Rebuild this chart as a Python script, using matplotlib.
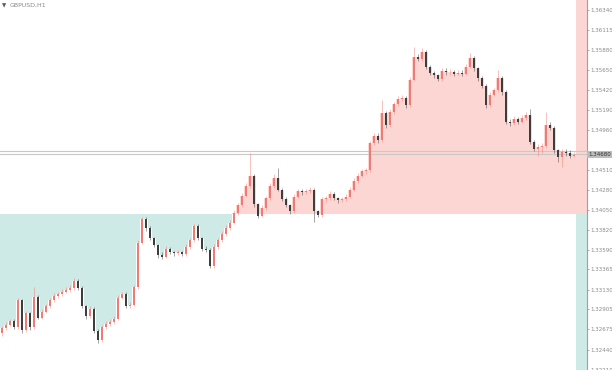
import numpy as np
import matplotlib
matplotlib.use("Agg")
import matplotlib.pyplot as plt

# GBPUSD H1 candles (first open, then closes/highs/lows)
first_open = 1.3263
closes = [
    1.3269, 1.3273, 1.3277, 1.3270, 1.3301, 1.3267, 1.3286, 1.3270, 1.3305, 1.3281,
    1.3288, 1.3294, 1.3301, 1.3306, 1.3308, 1.3311, 1.3313, 1.3315, 1.3323, 1.3315,
    1.3294, 1.3283, 1.3291, 1.3266, 1.3255, 1.3270, 1.3274, 1.3276, 1.3280, 1.3304,
    1.3308, 1.3294, 1.3296, 1.3316, 1.3367, 1.3394, 1.3384, 1.3372, 1.3364, 1.3353,
    1.3351, 1.3360, 1.3356, 1.3355, 1.3356, 1.3354, 1.3362, 1.3370, 1.3386, 1.3372,
    1.3360, 1.3359, 1.3340, 1.3362, 1.3370, 1.3377, 1.3384, 1.3390, 1.3401, 1.3410,
    1.3421, 1.3432, 1.3444, 1.3411, 1.3398, 1.3407, 1.3418, 1.3432, 1.3441, 1.3428,
    1.3417, 1.3410, 1.3403, 1.3420, 1.3426, 1.3425, 1.3426, 1.3428, 1.3403, 1.3399,
    1.3417, 1.3418, 1.3423, 1.3418, 1.3416, 1.3417, 1.3420, 1.3428, 1.3438, 1.3444,
    1.3449, 1.3450, 1.3481, 1.3490, 1.3485, 1.3516, 1.3502, 1.3517, 1.3526, 1.3532,
    1.3533, 1.3525, 1.3554, 1.3580, 1.3578, 1.3586, 1.3569, 1.3562, 1.3559, 1.3555,
    1.3564, 1.3563, 1.3563, 1.3561, 1.3562, 1.3561, 1.3569, 1.3579, 1.3567, 1.3556,
    1.3547, 1.3525, 1.3537, 1.3542, 1.3556, 1.3540, 1.3506, 1.3504, 1.3509, 1.3506,
    1.3510, 1.3514, 1.3483, 1.3475, 1.3477, 1.3478, 1.3502, 1.3499, 1.3473, 1.3465,
    1.3471, 1.3470, 1.3467, 1.3468,
]
highs = [
    1.3272, 1.3276, 1.3280, 1.3279, 1.3304, 1.3303, 1.3289, 1.3288, 1.3316, 1.3307,
    1.3291, 1.3297, 1.3304, 1.3309, 1.3311, 1.3314, 1.3316, 1.3318, 1.3327, 1.3325,
    1.3317, 1.3296, 1.3294, 1.3293, 1.3268, 1.3273, 1.3277, 1.3279, 1.3283, 1.3307,
    1.3311, 1.3310, 1.3299, 1.3319, 1.3370, 1.3397, 1.3396, 1.3386, 1.3374, 1.3366,
    1.3356, 1.3363, 1.3362, 1.3358, 1.3359, 1.3358, 1.3365, 1.3373, 1.3389, 1.3388,
    1.3374, 1.3363, 1.3361, 1.3365, 1.3373, 1.3380, 1.3387, 1.3393, 1.3404, 1.3413,
    1.3424, 1.3435, 1.3470, 1.3446, 1.3413, 1.3410, 1.3421, 1.3435, 1.3446, 1.3453,
    1.3430, 1.3419, 1.3412, 1.3423, 1.3429, 1.3429, 1.3429, 1.3431, 1.3430, 1.3405,
    1.3420, 1.3421, 1.3426, 1.3425, 1.3420, 1.3420, 1.3423, 1.3431, 1.3441, 1.3447,
    1.3452, 1.3453, 1.3484, 1.3493, 1.3493, 1.3531, 1.3518, 1.3520, 1.3529, 1.3535,
    1.3536, 1.3535, 1.3557, 1.3592, 1.3583, 1.3590, 1.3588, 1.3571, 1.3564, 1.3561,
    1.3567, 1.3567, 1.3566, 1.3565, 1.3565, 1.3565, 1.3572, 1.3585, 1.3581, 1.3569,
    1.3558, 1.3549, 1.3540, 1.3545, 1.3565, 1.3558, 1.3542, 1.3509, 1.3512, 1.3511,
    1.3513, 1.3517, 1.3521, 1.3485, 1.3480, 1.3481, 1.3517, 1.3505, 1.3501, 1.3475,
    1.3474, 1.3474, 1.3473, 1.3471,
]
lows = [
    1.3260, 1.3267, 1.3271, 1.3268, 1.3268, 1.3264, 1.3265, 1.3267, 1.3268, 1.3279,
    1.3279, 1.3286, 1.3292, 1.3299, 1.3304, 1.3306, 1.3309, 1.3311, 1.3313, 1.3313,
    1.3292, 1.3280, 1.3281, 1.3263, 1.3252, 1.3253, 1.3268, 1.3272, 1.3274, 1.3278,
    1.3302, 1.3292, 1.3292, 1.3294, 1.3314, 1.3365, 1.3381, 1.3370, 1.3362, 1.3350,
    1.3348, 1.3349, 1.3354, 1.3352, 1.3353, 1.3352, 1.3352, 1.3360, 1.3368, 1.3370,
    1.3358, 1.3356, 1.3338, 1.3338, 1.3360, 1.3368, 1.3375, 1.3382, 1.3388, 1.3399,
    1.3408, 1.3419, 1.3430, 1.3408, 1.3395, 1.3396, 1.3405, 1.3416, 1.3430, 1.3426,
    1.3415, 1.3408, 1.3400, 1.3401, 1.3418, 1.3422, 1.3423, 1.3424, 1.3391, 1.3396,
    1.3397, 1.3414, 1.3416, 1.3416, 1.3413, 1.3414, 1.3415, 1.3418, 1.3426, 1.3436,
    1.3442, 1.3446, 1.3448, 1.3479, 1.3482, 1.3483, 1.3499, 1.3500, 1.3515, 1.3524,
    1.3530, 1.3522, 1.3523, 1.3552, 1.3575, 1.3576, 1.3566, 1.3559, 1.3556, 1.3552,
    1.3553, 1.3560, 1.3560, 1.3558, 1.3559, 1.3558, 1.3559, 1.3567, 1.3564, 1.3553,
    1.3544, 1.3522, 1.3523, 1.3535, 1.3540, 1.3537, 1.3503, 1.3501, 1.3502, 1.3503,
    1.3504, 1.3508, 1.3480, 1.3472, 1.3466, 1.3470, 1.3476, 1.3496, 1.3470, 1.3460,
    1.3454, 1.3467, 1.3464, 1.3465,
]

base_level = 1.3400          # level the shaded areas hang from
bid_ask = [1.3472, 1.3469]   # the two grey horizontal price lines
tick_values = [1.36340, 1.36115, 1.35880, 1.35650, 1.35420, 1.35190, 1.34960,
               1.34510, 1.34280, 1.34050, 1.33820, 1.33590, 1.33365, 1.33130,
               1.32905, 1.32675, 1.32440, 1.32210]
symbol = "GBPUSD,H1"

# colours
BULL = "#ef7c74"
BEAR = "#3d3d3d"
PINK = "#fcd6d3"
CYAN = "#cdeae7"
GRID = "#c8c8c8"
LABEL = "#8a8a8a"

closes = np.array(closes)
highs = np.array(highs)
lows = np.array(lows)
opens = np.concatenate([[first_open], closes[:-1]])
idx = np.arange(len(closes))
up = closes >= opens

ymin, ymax = 1.32210, 1.36455
x0, x1 = -0.5, 146.25

fig = plt.figure(figsize=(6.12, 3.70), dpi=100)
ax = fig.add_axes([0, 0, 587 / 612, 1])
ax.set_xlim(x0, x1)
ax.set_ylim(ymin, ymax)

# shaded area between body top and the base level
# (edge points added so the steps cover the full first/last bar)
body_top = np.maximum(opens, closes)
fx = np.concatenate([[x0], idx, [idx[-1] + 0.5]])
ftop = np.concatenate([[body_top[0]], body_top, [body_top[-1]]])
ax.fill_between(fx, base_level, np.maximum(ftop, base_level),
                step="mid", color=PINK, lw=0, zorder=1)
ax.fill_between(fx, base_level, np.minimum(ftop, base_level),
                step="mid", color=CYAN, lw=0, zorder=1)

# band to the right of the last bar
band = [idx[-1] + 0.45, x1]
ax.fill_between(band, base_level, ymax, color=PINK, lw=0, zorder=1)
ax.fill_between(band, ymin, base_level, color=CYAN, lw=0, zorder=1)

for lvl in bid_ask:
    ax.axhline(lvl, color=GRID, lw=0.8, zorder=2)

# candles
colors = np.where(up, BULL, BEAR)
ax.vlines(idx, lows, highs, colors=colors, lw=0.6, alpha=0.55, zorder=3)
body_h = np.maximum(np.abs(closes - opens), 0.00004)
ax.bar(idx, body_h, bottom=np.minimum(opens, closes), width=0.45,
       color=colors, lw=0, zorder=4)

# price axis on the right
for s in ["top", "left", "bottom"]:
    ax.spines[s].set_visible(False)
ax.spines["right"].set_color("#a0a0a0")
ax.spines["right"].set_linewidth(0.8)
ax.set_xticks([])
ax.yaxis.tick_right()
ax.set_yticks(tick_values)
ax.set_yticklabels(["%.5f" % v for v in tick_values])
ax.tick_params(axis="y", labelsize=4.0, colors=LABEL, length=1.5, width=0.5, pad=1)

# current price tag
ax.text(1.002, closes[-1], "%.5f" % closes[-1], transform=ax.get_yaxis_transform(),
        fontsize=4.0, color="#303030", va="center", ha="left",
        bbox=dict(boxstyle="square,pad=0.2", fc="#bdbdbd", ec="none"), zorder=6,
        clip_on=False)

fig.text(0.004, 0.99, "\u25bc", fontsize=4, color="#606060", va="top", ha="left")
fig.text(0.016, 0.992, symbol, fontsize=4.5, color=LABEL, va="top", ha="left")

fig.savefig("out.png", dpi=100)
